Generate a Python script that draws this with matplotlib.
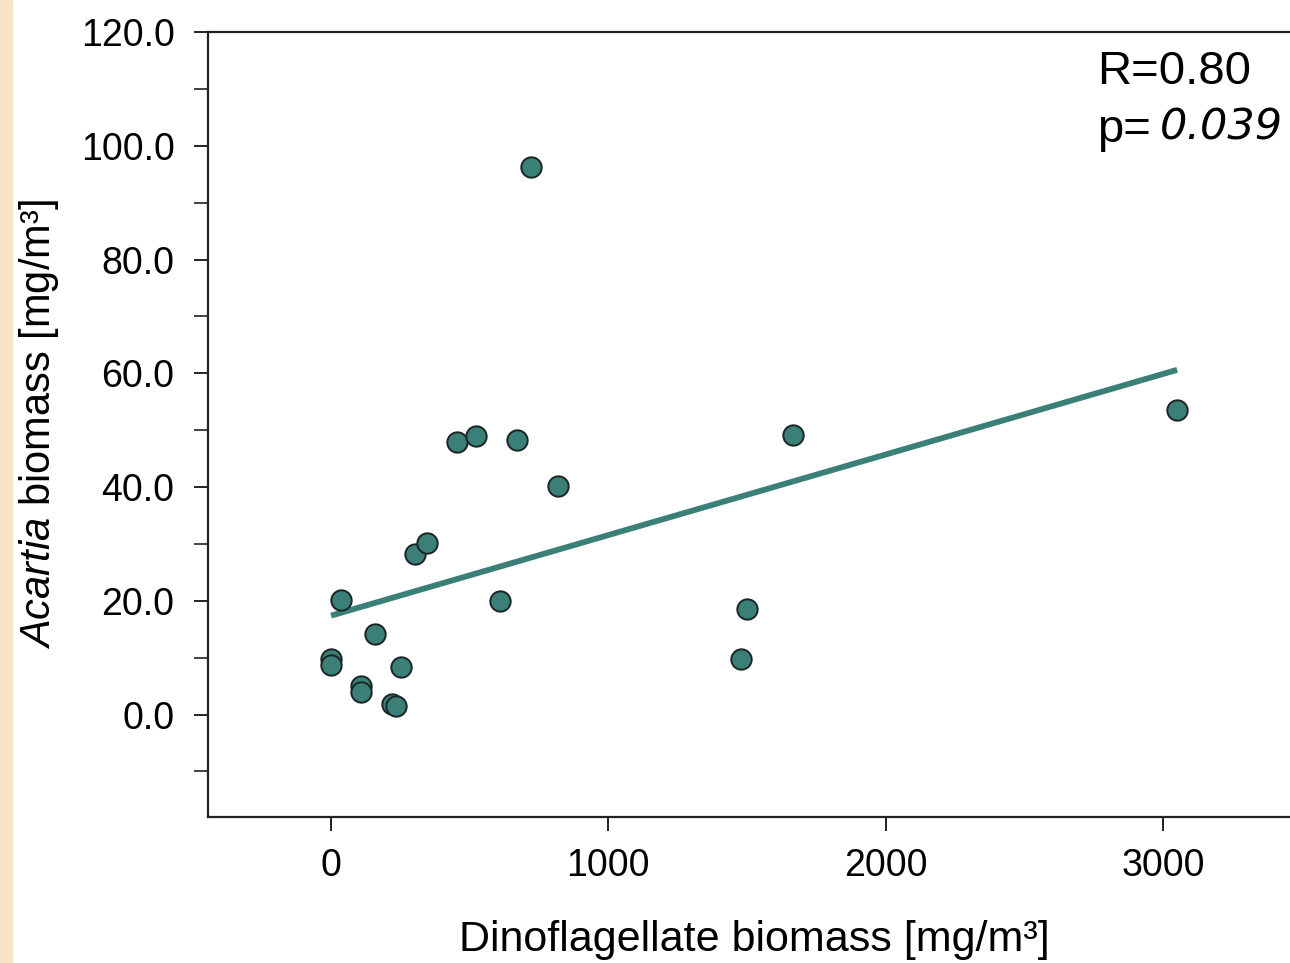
# Acartia vs dinoflagellate biomass scatter with regression line
import matplotlib
matplotlib.use("Agg")
import matplotlib.pyplot as plt
import numpy as np
from matplotlib.ticker import MultipleLocator, FormatStrFormatter
from matplotlib.patches import Rectangle

# data
dino_biomass = [0, 0, 36, 159, 108, 108, 220, 234, 252, 303, 346,
                454, 523, 671, 819, 609, 721, 1479, 1500, 1666, 3051]
acartia_biomass = [9.8, 8.8, 20.2, 14.2, 5.1, 3.9, 1.9, 1.6, 8.4, 28.3, 30.1,
                   48.0, 48.9, 48.3, 40.1, 20.0, 96.3, 9.8, 18.6, 49.2, 53.6]

# regression line as drawn in the reference
fit_intercept = 17.4
fit_slope = 0.01416
x_ticks = [0, 1000, 2000, 3000]
y_ticks = [0.0, 20.0, 40.0, 60.0, 80.0, 100.0, 120.0]

plt.rcParams["font.family"] = ["Liberation Sans", "DejaVu Sans"]
plt.rcParams["mathtext.fontset"] = "custom"
plt.rcParams["mathtext.it"] = "Liberation Sans:italic"
plt.rcParams["mathtext.rm"] = "Liberation Sans"

fig = plt.figure(figsize=(12.9, 9.63), dpi=100)
ax = fig.add_axes([0.1612, 0.1516, 0.8478, 0.8152])

# pale strip on the left edge of the slide
fig.patches.append(Rectangle((0, 0), 12 / 1290, 1, transform=fig.transFigure,
                             color="#f7e4c4", zorder=0))

teal = "#3b7f79"
line_x = np.array([min(dino_biomass), max(dino_biomass)])
ax.plot(line_x, fit_intercept + fit_slope * line_x, color=teal, lw=4.2,
        solid_capstyle="butt", zorder=2)
ax.scatter(dino_biomass, acartia_biomass, s=215, color=teal,
           edgecolor="#1b2524", linewidth=1.4, zorder=3)

ax.set_xlim(-444, 3500)
ax.set_ylim(-18, 120)
ax.set_xticks(x_ticks)
ax.set_yticks(y_ticks)
ax.yaxis.set_minor_locator(MultipleLocator(10))
ax.yaxis.set_major_formatter(FormatStrFormatter("%.1f"))

for side in ["left", "bottom", "top"]:
    ax.spines[side].set_linewidth(1.6)
    ax.spines[side].set_color("#222222")
ax.spines["right"].set_visible(False)

ax.tick_params(axis="both", which="major", direction="out", length=10,
               width=1.4, labelsize=27, color="#222222")
ax.tick_params(axis="y", which="minor", direction="out", length=10, width=1.2,
               color="#222222")
ax.tick_params(axis="x", pad=12)
ax.tick_params(axis="y", pad=14)

ax.set_xlabel("Dinoflagellate biomass [mg/m³]", fontsize=31, labelpad=26)
ax.set_ylabel(r"$\mathit{Acartia}$ biomass [mg/m³]", fontsize=30, labelpad=14)

fig.text(1097 / 1290, 1 - 72 / 963, "R=0.80", fontsize=34, va="center", ha="left")
fig.text(1097 / 1290, 1 - 130 / 963, "p=", fontsize=34, va="center", ha="left")
fig.text(1160 / 1290, 1 - 128 / 963, "0.039", fontsize=31, va="center",
         ha="left", family="DejaVu Sans", style="italic")

plt.savefig("out.png", dpi=100)
